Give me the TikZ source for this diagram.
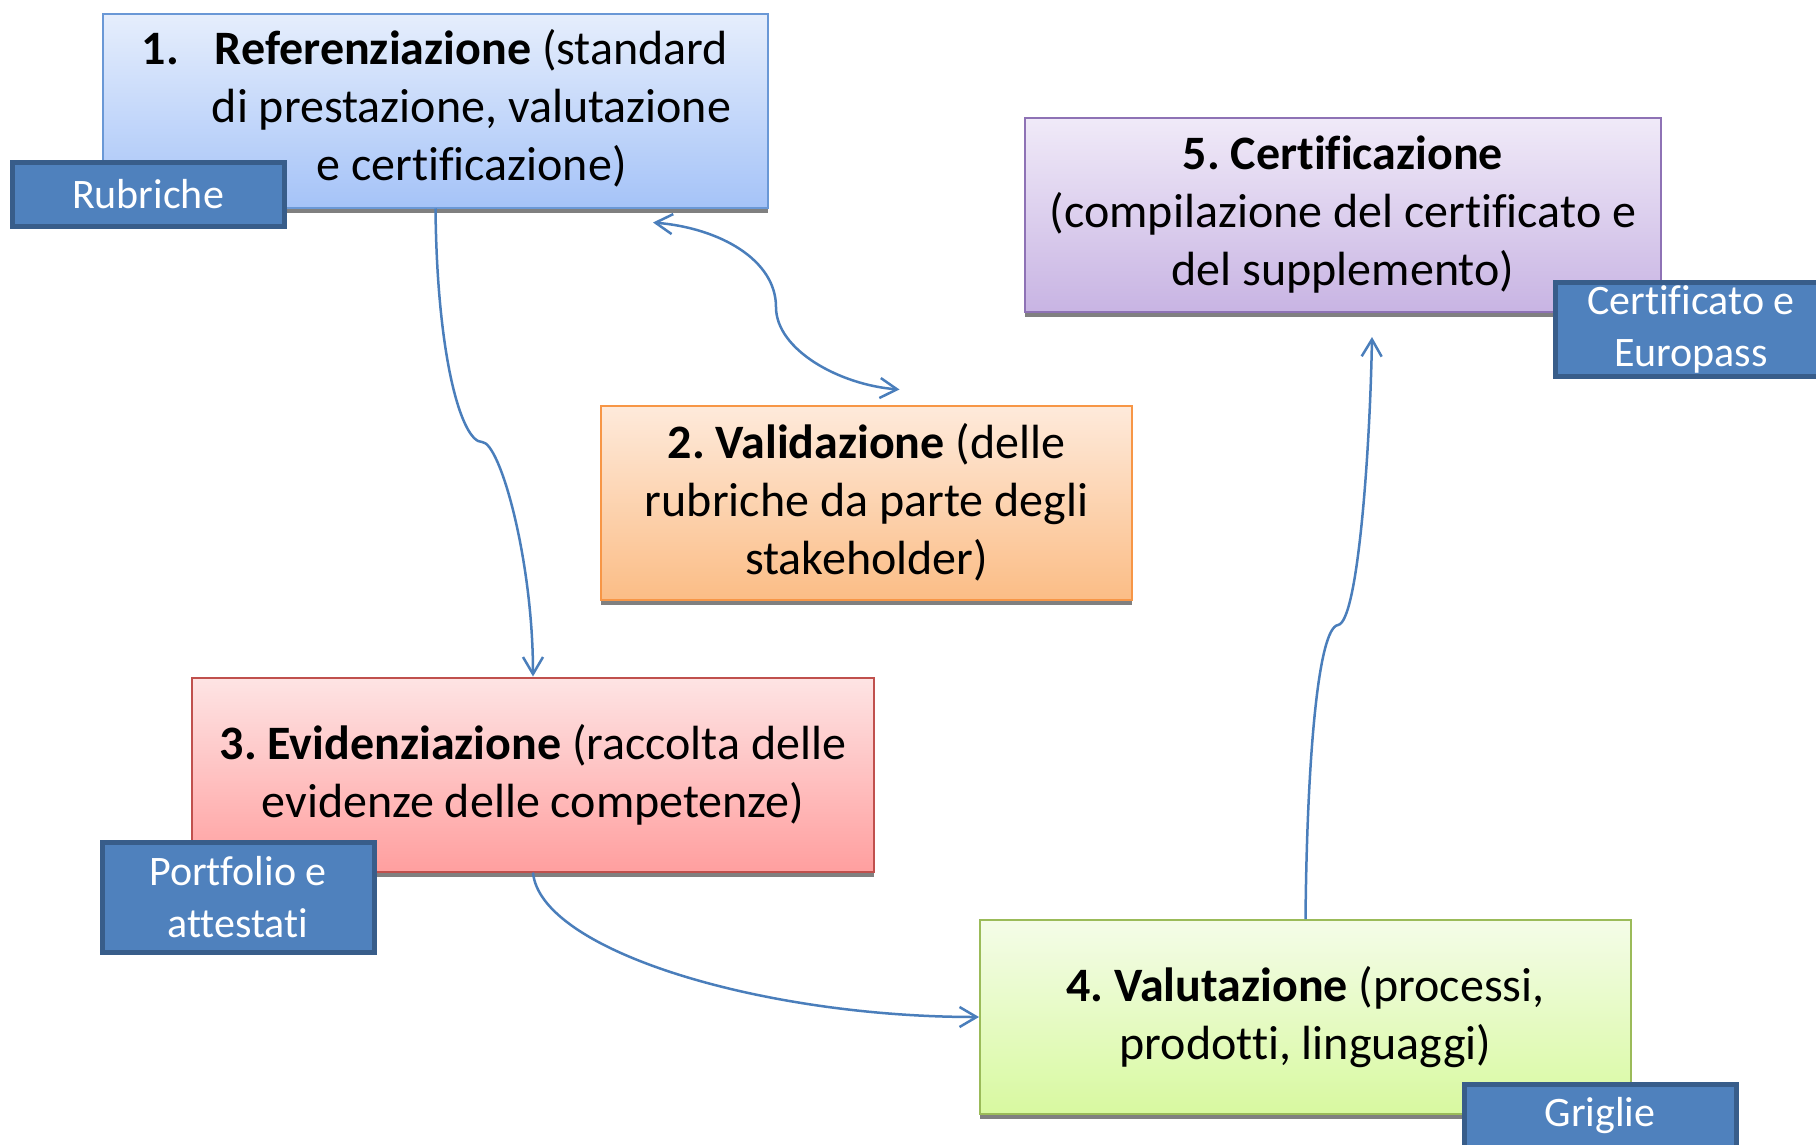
\documentclass[tikz,border=0pt]{standalone}
\usepackage{fontspec}
\setmainfont{Carlito}[Ligatures=CommonOff]
\usepackage{xcolor}
\usetikzlibrary{shadows}
\usetikzlibrary{arrows.meta}
\frenchspacing

\definecolor{edgeblue}{HTML}{4A7EBB}
\definecolor{tooldark}{HTML}{385D8A}
\definecolor{toolblue}{HTML}{4F81BD}
\definecolor{refdraw}{HTML}{6A98D6}
\definecolor{reftop}{HTML}{E6EEFC}
\definecolor{refbot}{HTML}{A5C3F8}
\definecolor{valdraw}{HTML}{F79646}
\definecolor{valtop}{HTML}{FEEADB}
\definecolor{valbot}{HTML}{FBBD86}
\definecolor{evidraw}{HTML}{C0504D}
\definecolor{evitop}{HTML}{FEE4E4}
\definecolor{evibot}{HTML}{FF9F9F}
\definecolor{vlydraw}{HTML}{9BBB59}
\definecolor{vlytop}{HTML}{F4FCE8}
\definecolor{vlybot}{HTML}{D8F9A0}
\definecolor{cerdraw}{HTML}{8E72B5}
\definecolor{certop}{HTML}{F0EAF8}
\definecolor{cerbot}{HTML}{C8B4E3}

\begin{document}
\begin{tikzpicture}[x=1pt,y=-1pt]
	%\draw[help lines] (0,0) grid (1816,1144);
	\useasboundingbox (0,0) rectangle (1816,1144);

	\tikzstyle{pnode} = [rectangle,draw,line width=2pt,inner sep=0pt,minimum height=194pt,align=center,font=\fontsize{48}{58}\selectfont,drop shadow={shadow xshift=0pt,shadow yshift=-5pt,fill=black!50,opacity=1}]
	\tikzstyle{tnode} = [rectangle,draw=tooldark,line width=5pt,fill=toolblue,text=white,inner sep=0pt,minimum width=272pt,align=center,font=\fontsize{42}{52}\selectfont]
	\tikzstyle{pedge} = [->,>={Straight Barb[length=17pt,width=20pt]},line width=2.5pt,color=edgeblue]


	\node[pnode,draw=refdraw,top color=reftop,bottom color=refbot,minimum width=665pt] (ref) at (435.5, 110.5) {\begin{tabular}{@{\hspace{72pt}}c@{}}\llap{\textbf{1.}\hspace{36pt}}\textbf{Referenziazione} (standard\\di prestazione, valutazione\\e certificazione)\end{tabular}};
	\node[pnode,draw=valdraw,top color=valtop,bottom color=valbot,minimum width=531pt] (val) at (866.5, 502.5) {\textbf{2. Validazione} (delle\\rubriche da parte degli\\stakeholder)};
	\node[pnode,draw=evidraw,top color=evitop,bottom color=evibot,minimum width=682pt] (evi) at (533, 774.5) {\textbf{3. Evidenziazione} (raccolta delle\\evidenze delle competenze)};
	\node[pnode,draw=vlydraw,top color=vlytop,bottom color=vlybot,minimum width=651pt] (vly) at (1305.5, 1017) {\textbf{4. Valutazione} (processi,\\prodotti, linguaggi)};
	\node[pnode,draw=cerdraw,top color=certop,bottom color=cerbot,minimum width=636pt] (cer) at (1343, 215) {\textbf{5. Certificazione}\\(compilazione del certificato e\\del supplemento)};

	\node[tnode,minimum height=64pt] (rub) at (148, 194) {Rubriche};
	\node[tnode,minimum height=110pt] (por) at (238, 897.5) {Portfolio e\\attestati};
	\node[tnode,minimum height=64pt] (gri) at (1600, 1116) {Griglie};
	\node[tnode,minimum height=94pt] (eur) at (1691, 329.5) {Certificato e\\Europass};

	\draw[pedge] (ref.south) .. controls (437,360) and (462,442) .. (482,442) .. controls (500,442) and (533,560) .. (evi.north);
	\draw[pedge,<->] ([xshift=-116pt,yshift=-14pt]ref.south east) .. controls (720,228) and (776,260) .. (776,307) .. controls (776,350) and (840,385) .. ([xshift=33pt,yshift=15pt]val.north);
	\draw[pedge] (evi.south) .. controls (540,950) and (760,1017) .. (vly.west);
	\draw[pedge] (vly.north) .. controls (1307,760) and (1318,628) .. (1338,625) .. controls (1358,622) and (1370,450) .. ([xshift=29pt,yshift=-24pt]cer.south);

\end{tikzpicture}
\end{document}
